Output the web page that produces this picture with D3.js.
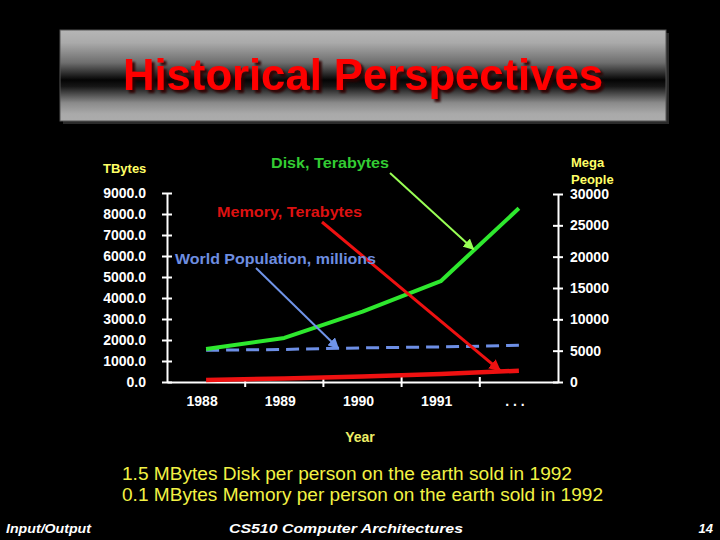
<!DOCTYPE html>
<html>
<head>
<meta charset="utf-8">
<script src="https://cdn.jsdelivr.net/npm/d3@7"></script>
<style>
  body { margin: 0; background: #000; }
  svg { display: block; font-family: 'Liberation Sans', Arial, sans-serif; }
  .axis text { fill: #fff; font-size: 14px; font-weight: bold; }
  .axis line, .axis path { stroke: #fff; stroke-width: 2; }
</style>
</head>
<body>
<div id="chart"></div>
<script>
// values
var years = ["1988", "1989", "1990", "1991", ". . ."];
var diskTB = [1570, 2100, 3350, 4800, 8270];
var memoryTB = [100, 170, 260, 380, 540];
var populationM = [5050, 5200, 5450, 5600, 5850];
var leftTicks = [0, 1000, 2000, 3000, 4000, 5000, 6000, 7000, 8000, 9000];
var rightTicks = [0, 5000, 10000, 15000, 20000, 25000, 30000];

// annotation arrows point at [category index, value]
var diskNote = { text: "Disk, Terabytes", tip: [3.42, 6320] };
var memNote = { text: "Memory, Terabytes", tip: [3.76, 540] };
var popNote = { text: "World Population, millions", tip: [1.69, 5380] };

var svg = d3.select("#chart").append("svg")
    .attr("width", 720).attr("height", 540);

svg.append("rect").attr("width", 720).attr("height", 540).attr("fill", "#000");

var defs = svg.append("defs");
var grad = defs.append("linearGradient").attr("id", "titleGrad")
    .attr("x1", 0).attr("y1", 0).attr("x2", 0).attr("y2", 1);
[[0, "#b6b6b6"], [0.14, "#aaaaaa"], [0.36, "#6e6e6e"], [0.55, "#040404"],
 [0.62, "#161616"], [0.8, "#8a8a8a"], [0.92, "#a9a9a9"], [1, "#acacac"]]
  .forEach(function (s) {
    grad.append("stop").attr("offset", s[0]).attr("stop-color", s[1]);
  });

defs.append("filter").attr("id", "shadow")
    .attr("x", "-5%").attr("y", "-20%").attr("width", "110%").attr("height", "140%")
  .append("feDropShadow").attr("dx", 3).attr("dy", 3).attr("stdDeviation", 1)
    .attr("flood-color", "#300000").attr("flood-opacity", 0.9);

function marker(id, color, size) {
  defs.append("marker").attr("id", id)
      .attr("viewBox", "0 0 10 10").attr("refX", 9).attr("refY", 5)
      .attr("markerWidth", size).attr("markerHeight", size)
      .attr("markerUnits", "userSpaceOnUse")
      .attr("orient", "auto")
    .append("path").attr("d", "M0,0L10,5L0,10z").attr("fill", color);
}
marker("arrGreen", "#99ff55", 11);
marker("arrRed", "#ee1111", 12);
marker("arrBlue", "#7094e8", 11);

// title banner
svg.append("rect").attr("x", 63).attr("y", 33).attr("width", 606).attr("height", 91)
    .attr("fill", "#2a2a2a");
svg.append("rect").attr("x", 60).attr("y", 30).attr("width", 606).attr("height", 91)
    .attr("fill", "url(#titleGrad)").attr("stroke", "#555").attr("stroke-width", 1);
svg.append("text").attr("x", 363).attr("y", 90).attr("text-anchor", "middle")
    .attr("font-size", 44).attr("font-weight", "bold").attr("fill", "#ff0000")
    .attr("textLength", 480).attr("lengthAdjust", "spacingAndGlyphs")
    .attr("filter", "url(#shadow)")
    .text("Historical Perspectives");

// scales
var x = d3.scaleBand().domain(years).range([167, 558]);
var xc = function (d) { return x(d) + x.bandwidth() / 2; };
var xi = d3.scaleLinear().domain([0, years.length - 1])
    .range([xc(years[0]), xc(years[years.length - 1])]);
var yL = d3.scaleLinear().domain([0, 9000]).range([382, 193]);
var yR = d3.scaleLinear().domain([0, 30000]).range([382, 194]);

// left axis
var gl = svg.append("g").attr("class", "axis").attr("transform", "translate(167,0)")
    .call(d3.axisLeft(yL).tickValues(leftTicks).tickFormat(d3.format(".1f"))
      .tickSize(5).tickSizeOuter(0).tickPadding(16));
gl.selectAll(".tick line").attr("x1", 5).attr("x2", -5);

// right axis
var gr = svg.append("g").attr("class", "axis").attr("transform", "translate(558,0)")
    .call(d3.axisRight(yR).tickValues(rightTicks).tickFormat(d3.format("d"))
      .tickSize(5).tickSizeOuter(0).tickPadding(7));
gr.selectAll(".tick line").attr("x1", -5).attr("x2", 5);

// bottom axis: labels in the bands, ticks on the band edges
var gb = svg.append("g").attr("class", "axis").attr("transform", "translate(0,382)")
    .call(d3.axisBottom(x).tickSize(0).tickSizeOuter(0).tickPadding(14));
gb.selectAll(".tick text").attr("dx", -4);
gb.selectAll(".edge").data(years.slice(1)).enter().append("line")
    .attr("x1", function (d) { return x(d); }).attr("x2", function (d) { return x(d); })
    .attr("y1", -5).attr("y2", 5);

// axis titles
svg.append("text").attr("x", 103).attr("y", 173).attr("font-size", 13)
    .attr("font-weight", "bold").attr("fill", "#ffff66").text("TBytes");
svg.append("text").attr("x", 571).attr("y", 167).attr("font-size", 13)
    .attr("font-weight", "bold").attr("fill", "#ffff66").text("Mega");
svg.append("text").attr("x", 571).attr("y", 184).attr("font-size", 13)
    .attr("font-weight", "bold").attr("fill", "#ffff66").text("People");
svg.append("text").attr("x", 360).attr("y", 442).attr("text-anchor", "middle")
    .attr("font-size", 14).attr("font-weight", "bold").attr("fill", "#eeee66").text("Year");

// series
function series(values, yScale) {
  return d3.line()
    .x(function (d, i) { return xc(years[i]); })
    .y(function (d) { return yScale(d); })(values);
}
svg.append("path").attr("d", series(memoryTB, yL)).attr("fill", "none")
    .attr("stroke", "#ee1111").attr("stroke-width", 4.5);
svg.append("path").attr("d", series(populationM, yR)).attr("fill", "none")
    .attr("stroke", "#6d8fe6").attr("stroke-width", 3).attr("stroke-dasharray", "13,7");
svg.append("path").attr("d", series(diskTB, yL)).attr("fill", "none")
    .attr("stroke", "#2ee82e").attr("stroke-width", 4).attr("stroke-linejoin", "round");

// annotations
function note(n, tx, ty, tw, color, tail, yScale, arrowColor, width, mark) {
  svg.append("text").attr("x", tx).attr("y", ty).attr("font-size", 15)
      .attr("font-weight", "bold").attr("fill", color)
      .attr("textLength", tw).attr("lengthAdjust", "spacingAndGlyphs").text(n.text);
  svg.append("line").attr("x1", tail[0]).attr("y1", tail[1])
      .attr("x2", xi(n.tip[0])).attr("y2", yScale(n.tip[1]))
      .attr("stroke", arrowColor).attr("stroke-width", width)
      .attr("marker-end", "url(#" + mark + ")");
}
note(diskNote, 271, 168, 118, "#33cc33", [390, 173], yL, "#99ff55", 2, "arrGreen");
note(memNote, 217, 217, 145, "#dd1111", [322, 222], yL, "#ee1111", 3, "arrRed");
note(popNote, 175, 264, 201, "#6e8ee0", [256, 268], yR, "#7094e8", 2, "arrBlue");

// bottom remarks
svg.append("text").attr("x", 122).attr("y", 480).attr("font-size", 18)
    .attr("fill", "#f2f244").attr("textLength", 450).attr("lengthAdjust", "spacingAndGlyphs")
    .text("1.5 MBytes Disk per person on the earth sold in 1992");
svg.append("text").attr("x", 122).attr("y", 501).attr("font-size", 18)
    .attr("fill", "#f2f244").attr("textLength", 481).attr("lengthAdjust", "spacingAndGlyphs")
    .text("0.1 MBytes Memory per person on the earth sold in 1992");

// footer
var foot = svg.append("g").attr("fill", "#fff").attr("font-size", 13)
    .attr("font-style", "italic").attr("font-weight", "bold");
foot.append("text").attr("x", 6).attr("y", 533).attr("textLength", 85)
    .attr("lengthAdjust", "spacingAndGlyphs").text("Input/Output");
foot.append("text").attr("x", 229).attr("y", 533).attr("textLength", 234)
    .attr("lengthAdjust", "spacingAndGlyphs").text("CS510 Computer Architectures");
foot.append("text").attr("x", 713).attr("y", 533).attr("text-anchor", "end").text("14");
</script>
</body>
</html>
